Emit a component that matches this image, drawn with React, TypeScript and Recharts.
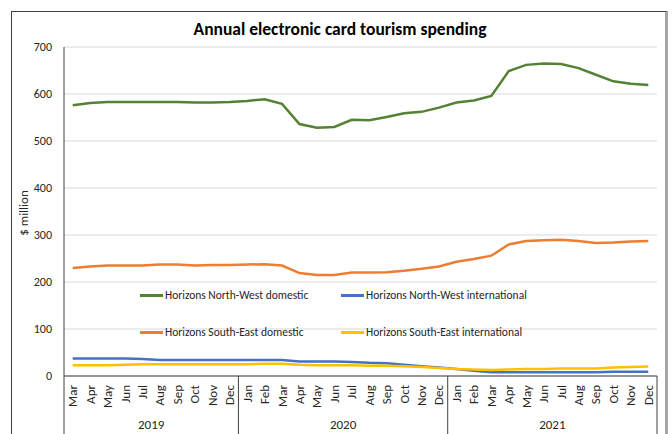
import React from 'react';
import { LineChart, Line, XAxis, YAxis, CartesianGrid, Legend } from 'recharts';

const months = [
  'Mar', 'Apr', 'May', 'Jun', 'Jul', 'Aug', 'Sep', 'Oct', 'Nov', 'Dec',
  'Jan', 'Feb', 'Mar', 'Apr', 'May', 'Jun', 'Jul', 'Aug', 'Sep', 'Oct', 'Nov', 'Dec',
  'Jan', 'Feb', 'Mar', 'Apr', 'May', 'Jun', 'Jul', 'Aug', 'Sep', 'Oct', 'Nov', 'Dec',
];
const years = [
  '2019', '2019', '2019', '2019', '2019', '2019', '2019', '2019', '2019', '2019',
  '2020', '2020', '2020', '2020', '2020', '2020', '2020', '2020', '2020', '2020', '2020', '2020',
  '2021', '2021', '2021', '2021', '2021', '2021', '2021', '2021', '2021', '2021', '2021', '2021',
];

const nwDomestic = [
  576, 581, 583, 583, 583, 583, 583, 582, 582, 583,
  585, 589, 579, 536, 528, 530, 545, 544, 551, 559, 562, 571,
  582, 586, 596, 649, 662, 665, 664, 655, 641, 627, 622, 619,
];
const nwInternational = [
  37, 37, 37, 37, 36, 34, 34, 34, 34, 34,
  34, 34, 34, 31, 31, 31, 30, 28, 27, 24, 21, 18,
  15, 11, 8, 8, 8, 8, 8, 8, 8, 9, 9, 9,
];
const seDomestic = [
  230, 233, 235, 235, 235, 237, 237, 235, 236, 236,
  237, 238, 235, 219, 215, 215, 220, 220, 221, 224, 228, 233,
  243, 249, 256, 280, 287, 289, 290, 287, 283, 284, 286, 287,
];
const seInternational = [
  23, 23, 23, 24, 25, 25, 25, 25, 25, 25,
  25, 26, 26, 24, 23, 23, 23, 22, 22, 21, 19, 17,
  15, 14, 13, 14, 15, 15, 16, 16, 16, 18, 19, 20,
];

const yTicks = [0, 100, 200, 300, 400, 500, 600, 700];

const series = [
  { key: 'nwDom', name: 'Horizons North-West domestic', color: '#548235' },
  { key: 'nwInt', name: 'Horizons North-West international', color: '#4472C4' },
  { key: 'seDom', name: 'Horizons South-East domestic', color: '#ED7D31' },
  { key: 'seInt', name: 'Horizons South-East international', color: '#FFC000' },
];

const data = months.map((m, i) => ({
  id: i,
  month: m,
  year: years[i],
  nwDom: nwDomestic[i],
  nwInt: nwInternational[i],
  seDom: seDomestic[i],
  seInt: seInternational[i],
}));

const FONT = 'Carlito, Lato, "Open Sans", sans-serif';
const TEXT = '#262626';

const MonthTick = (props: any) => {
  const { x, y, index, width } = props;
  const band = (width || 593) / data.length;
  const half = band / 2;
  const row = data[index];
  if (!row) return null;
  const isFirstOfYear = index === 0 || data[index - 1].year !== row.year;
  const isLastOfYear = index === data.length - 1 || data[index + 1].year !== row.year;
  const count = data.filter((d) => d.year === row.year).length;
  return (
    <g>
      <text
        x={x}
        y={y + 9}
        transform={`rotate(-90, ${x}, ${y + 9})`}
        textAnchor="end"
        dominantBaseline="central"
        fontSize={13}
        fontFamily={FONT}
        fill={TEXT}
      >
        {row.month}
      </text>
      {index === 0 && (
        <line x1={x - half} x2={x - half} y1={y} y2={y + 58} stroke="#404040" strokeWidth={1} />
      )}
      {isLastOfYear && (
        <line x1={x + half} x2={x + half} y1={y} y2={y + 58} stroke="#404040" strokeWidth={1} />
      )}
      {isFirstOfYear && (
        <text
          x={x + ((count - 1) / 2) * band}
          y={y + 48}
          textAnchor="middle"
          dominantBaseline="central"
          fontSize={13}
          fontFamily={FONT}
          fill={TEXT}
        >
          {row.year}
        </text>
      )}
    </g>
  );
};

const renderLegend = () => (
  <div
    style={{
      display: 'grid',
      gridTemplateColumns: '201px 240px',
      rowGap: 23,
      fontFamily: FONT,
      fontSize: 11.5,
      color: TEXT,
    }}
  >
    {series.map((s) => (
      <div key={s.key} style={{ display: 'flex', alignItems: 'center', height: 14 }}>
        <span style={{ display: 'inline-block', width: 23, height: 3, background: s.color, marginRight: 2 }} />
        <span>{s.name}</span>
      </div>
    ))}
  </div>
);

export default function App() {
  return (
    <div style={{ position: 'absolute', left: 0, top: 0, width: 672, height: 434, background: '#fff', overflow: 'hidden' }}>
      <div
        style={{
          position: 'absolute',
          left: 11,
          top: 11,
          width: 653,
          height: 440,
          borderTop: '1px solid #404040',
          borderLeft: '1px solid #404040',
          borderRight: '3px solid #a6a6a6',
        }}
      />
      <div
        style={{
          position: 'absolute',
          left: 0,
          top: 18,
          width: 680,
          textAlign: 'center',
          fontFamily: FONT,
          fontWeight: 'bold',
          fontSize: 17.5,
          color: '#000',
        }}
      >
        Annual electronic card tourism spending
      </div>
      <div
        style={{
          position: 'absolute',
          left: 16,
          top: 213,
          transform: 'translate(-50%, -50%) rotate(-90deg)',
          transformOrigin: 'center',
          marginLeft: 7,
          fontFamily: FONT,
          fontSize: 13,
          color: TEXT,
          whiteSpace: 'nowrap',
        }}
      >
        $ million
      </div>
      <div style={{ position: 'absolute', left: 0, top: 0 }}>
        <LineChart width={672} height={434} data={data} margin={{ top: 47, right: 15, bottom: 0, left: 0 }}>
          <CartesianGrid vertical={false} stroke="#d9d9d9" />
          <XAxis
            dataKey="id"
            type="category"
            scale="band"
            interval={0}
            height={58}
            tickLine={false}
            tickSize={0}
            tickMargin={0}
            axisLine={{ stroke: '#404040' }}
            tick={<MonthTick />}
          />
          <XAxis
            xAxisId="top"
            orientation="top"
            dataKey="id"
            scale="band"
            height={0}
            tick={false}
            tickLine={false}
            axisLine={{ stroke: '#404040' }}
          />
          <YAxis
            domain={[0, 700]}
            ticks={yTicks}
            width={64}
            tickLine={false}
            tickSize={0}
            tickMargin={12}
            axisLine={{ stroke: '#404040' }}
            tick={{ fontSize: 12, fill: TEXT, fontFamily: FONT }}
          />
          <YAxis yAxisId="right" orientation="right" width={0} tick={false} tickLine={false} axisLine={{ stroke: '#404040' }} />
          <Legend
            layout="horizontal"
            verticalAlign="middle"
            align="center"
            content={renderLegend}
            wrapperStyle={{ left: 140, top: 288, width: 460, height: 60 }}
          />
          {series.map((s) => (
            <Line
              key={s.key}
              dataKey={s.key}
              name={s.name}
              stroke={s.color}
              strokeWidth={2.5}
              dot={false}
              type="linear"
              isAnimationActive={false}
            />
          ))}
        </LineChart>
      </div>
    </div>
  );
}
